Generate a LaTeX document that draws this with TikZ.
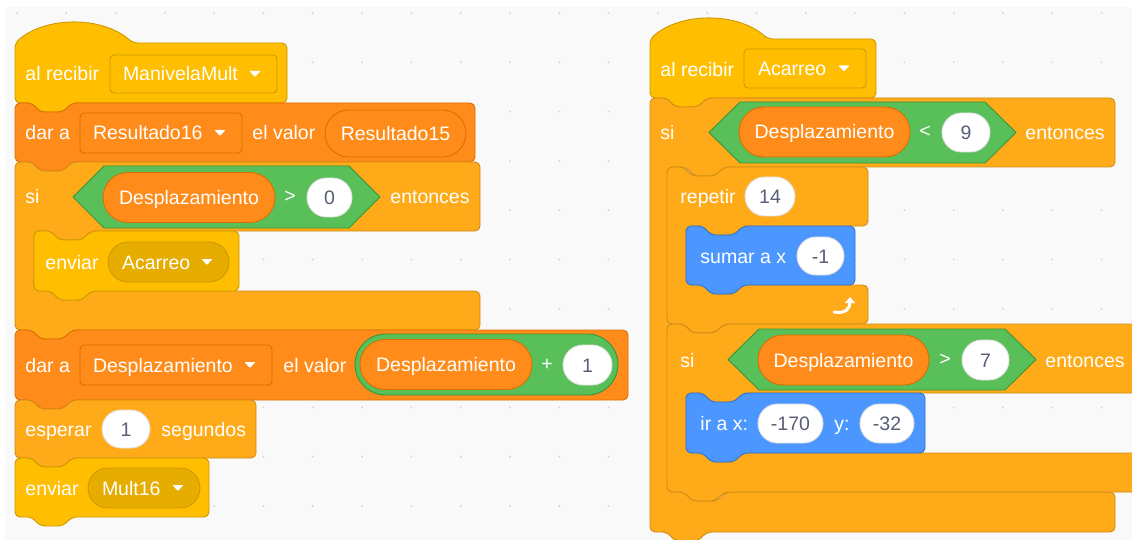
\documentclass[tikz,border=0pt]{standalone}
\usepackage{fontspec}
\setmainfont{Liberation Sans}
\usetikzlibrary{shapes.misc,arrows.meta}

\definecolor{evfill}{HTML}{FFBF00}
\definecolor{evline}{HTML}{CC9900}
\definecolor{evdark}{HTML}{E6AC00}
\definecolor{ctfill}{HTML}{FFAB19}
\definecolor{ctline}{HTML}{CF8B17}
\definecolor{vafill}{HTML}{FF8C1A}
\definecolor{valine}{HTML}{DB6E00}
\definecolor{opfill}{HTML}{59C059}
\definecolor{opline}{HTML}{389438}
\definecolor{mofill}{HTML}{4C97FF}
\definecolor{moline}{HTML}{3373CC}
\definecolor{numtext}{HTML}{575E75}
\definecolor{canvas}{HTML}{F9F9F9}
\definecolor{dotgray}{HTML}{D6D6D6}

\newcommand{\blkfnt}{\fontsize{19.5}{22}\selectfont}

% stack block: style, x1, y1, x2, y2
\newcommand{\stackblk}[5]{%
  \draw[#1] (#2,#3) -- (#2+17,#3) -- (#2+25,#3+9) -- (#2+48,#3+9) -- (#2+57,#3)
    -- (#4,#3) -- (#4,#5) -- (#2+57,#5) -- (#2+48,#5+9) -- (#2+25,#5+9)
    -- (#2+17,#5) -- (#2,#5) -- cycle;}

% hat block: style, x1, y1, x2, y2
\newcommand{\hatblk}[5]{%
  \draw[#1] (#2,#3) .. controls (#2+31,#3-27) and (#2+87,#3-27) .. (#2+118,#3)
    -- (#4,#3) -- (#4,#5) -- (#2+57,#5) -- (#2+48,#5+9) -- (#2+25,#5+9)
    -- (#2+17,#5) -- (#2,#5) -- cycle;}

% c block: style, x1, y1, x2, arm bottom, arm top, y2
\newcommand{\cblk}[7]{%
  \draw[#1] (#2,#3) -- (#2+17,#3) -- (#2+25,#3+9) -- (#2+48,#3+9) -- (#2+57,#3)
    -- (#4,#3) -- (#4,#5) -- (#2+76,#5) -- (#2+67,#5+9) -- (#2+44,#5+9) -- (#2+36,#5)
    -- (#2+19,#5) -- (#2+19,#6) -- (#2+36,#6) -- (#2+44,#6+9) -- (#2+67,#6+9) -- (#2+76,#6)
    -- (#4,#6) -- (#4,#7) -- (#2+57,#7) -- (#2+48,#7+9) -- (#2+25,#7+9)
    -- (#2+17,#7) -- (#2,#7) -- cycle;}

% boolean slot: x1, y1, x2, y2
\newcommand{\boolhex}[4]{%
  \draw[opblk] (#1,{(#2+#4)/2}) -- (#1+31,#2) -- (#3-31,#2) -- (#3,{(#2+#4)/2})
    -- (#3-31,#4) -- (#1+31,#4) -- cycle;}

% dropdown arrow near the east side of a field
\newcommand{\ddarrow}[1]{%
  \fill[white, rounded corners=0.8pt, shift={(#1)}] (-28,-3) -- (-17,-3) -- (-22.5,3) -- cycle;}

\begin{document}
\begin{tikzpicture}
  [x=1pt, y=-1pt, line width=0.9pt, line join=round,
   txt/.style={anchor=west, inner sep=0pt, text=white, font=\blkfnt, text height=14pt, text depth=0pt},
   sym/.style={inner sep=0pt, text=white, font=\blkfnt},
   fld/.style={rectangle, rounded corners=4pt, inner sep=0pt},
   pill/.style={rounded rectangle, inner sep=0pt, text=white, font=\blkfnt, text height=14pt, text depth=0pt},
   numin/.style={pill, fill=white, draw=black!12, text=numtext},
   evblk/.style={fill=evfill, draw=evline, rounded corners=5pt},
   ctblk/.style={fill=ctfill, draw=ctline, rounded corners=5pt},
   vablk/.style={fill=vafill, draw=valine, rounded corners=5pt},
   moblk/.style={fill=mofill, draw=moline, rounded corners=5pt},
   opblk/.style={fill=opfill, draw=opline}]

  \useasboundingbox (0,0) rectangle (1132,540);
  \clip (0,0) rectangle (1132,540);
  \fill[white] (0,0) rectangle (1132,540);
  \fill[canvas] (5,7) rectangle (1132,540);
  \foreach \i in {0,...,22}
    \foreach \j in {0,...,10}
      \fill[dotgray] ({17+49.3*\i},{13+49.3*\j}) circle (1.1pt);

  % left script
  \hatblk{evblk}{15}{43}{287}{103}
  \stackblk{vablk}{15}{103}{475}{162}
  \cblk{ctblk}{15}{162}{480}{231}{291}{330}
  \stackblk{evblk}{34}{231}{239}{291}
  \stackblk{vablk}{15}{330}{628}{400}
  \stackblk{ctblk}{15}{400}{256}{458}
  \stackblk{evblk}{15}{458}{209}{517}

  % right script
  \hatblk{evblk}{650}{39}{876}{98}
  \cblk{ctblk}{650}{98}{1115}{167}{492}{532}
  \cblk{ctblk}{667}{167}{868}{226}{285}{324}
  \stackblk{moblk}{686}{226}{855}{285}
  \cblk{ctblk}{667}{324}{1150}{393}{453}{492}
  \stackblk{moblk}{686}{393}{925}{453}

  % left script texts
  \node[txt] (lhat) at (25,74) {al recibir};
  \node[fld, fill=evfill, draw=evline, minimum width=167pt, minimum height=38pt] (lmsg) at (193.5,74) {};
  \node[txt] (lmsgt) at ([xshift=13pt]lmsg.west) {ManivelaMult};
  \ddarrow{lmsg.east}

  \node[txt] (lset1) at (25,133) {dar a};
  \node[fld, fill=vafill, draw=valine, minimum width=162pt, minimum height=40pt] (lvar1) at (161,133) {};
  \node[txt] (lvar1t) at ([xshift=13pt]lvar1.west) {Resultado16};
  \ddarrow{lvar1.east}
  \node[txt] (lval1) at (252,133) {el valor};
  \node[pill, fill=vafill, draw=valine, minimum width=141pt, minimum height=47pt] (lres15) at (395.5,133.5) {Resultado15};

  \node[txt] (lif) at (25,197) {si};
  \boolhex{73}{166}{380}{228}
  \node[pill, fill=vafill, draw=valine, minimum width=172pt, minimum height=50pt] (ldesp1) at (189,197.5) {Desplazamiento};
  \node[sym] (lgt) at (290,197) {>};
  \node[numin, minimum width=45pt, minimum height=39pt] (lzero) at (329.5,197.5) {0};
  \node[txt] (lthen) at (390,197) {entonces};

  \node[txt] (lsend1) at (45,262) {enviar};
  \node[pill, fill=evdark, draw=evline, minimum width=121pt, minimum height=40pt] (lacar) at (168.5,262) {};
  \node[txt] (lacart) at ([xshift=14pt]lacar.west) {Acarreo};
  \ddarrow{lacar.east}

  \node[txt] (lset2) at (25,365) {dar a};
  \node[fld, fill=vafill, draw=valine, minimum width=192pt, minimum height=40pt] (lvar2) at (176,365) {};
  \node[txt] (lvar2t) at ([xshift=13pt]lvar2.west) {Desplazamiento};
  \ddarrow{lvar2.east}
  \node[txt] (lval2) at (283,365) {el valor};
  \node[pill, fill=opfill, draw=opline, minimum width=263pt, minimum height=61pt] (lsum) at (486.5,364.5) {};
  \node[pill, fill=vafill, draw=valine, minimum width=172pt, minimum height=50pt] (ldesp2) at (446,364.5) {Desplazamiento};
  \node[sym] (lplus) at (547,365) {+};
  \node[numin, minimum width=49pt, minimum height=40pt] (lone1) at (587.5,365) {1};

  \node[txt] (lwait) at (25,429) {esperar};
  \node[numin, minimum width=48pt, minimum height=38pt] (lone2) at (126,429) {1};
  \node[txt] (lsec) at (161,429) {segundos};

  \node[txt] (lsend2) at (25,488) {enviar};
  \node[pill, fill=evdark, draw=evline, minimum width=112pt, minimum height=40pt] (lmult) at (144,488) {};
  \node[txt] (lmultt) at ([xshift=14pt]lmult.west) {Mult16};
  \ddarrow{lmult.east}

  % right script texts
  \node[txt] (rhat) at (660,70) {al recibir};
  \node[fld, fill=evfill, draw=evline, minimum width=122pt, minimum height=39pt] (rmsg) at (805,68.5) {};
  \node[txt] (rmsgt) at ([xshift=14pt]rmsg.west) {Acarreo};
  \ddarrow{rmsg.east}

  \node[txt] (rif1) at (660,133) {si};
  \boolhex{709}{102}{1016}{163}
  \node[pill, fill=vafill, draw=valine, minimum width=171pt, minimum height=50pt] (rdesp1) at (824.5,132) {Desplazamiento};
  \node[sym] (rlt) at (925,132) {<};
  \node[numin, minimum width=48pt, minimum height=39pt] (rnine) at (966,132.5) {9};
  \node[txt] (rthen1) at (1025,133) {entonces};

  \node[txt] (rrep) at (680,197) {repetir};
  \node[numin, minimum width=50pt, minimum height=39pt] (rtimes) at (770,196.5) {14};

  \node[txt] (rmove) at (700,256) {sumar a x};
  \node[numin, minimum width=47pt, minimum height=38pt] (rstep) at (820.5,256) {-1};

  \draw[white, line width=3pt, line cap=round, -{Triangle[length=6pt,width=10pt]}]
    (834,312) .. controls (845,314) and (850,309) .. (850,297);

  \node[txt] (rif2) at (680,360) {si};
  \boolhex{728}{329}{1036}{390}
  \node[pill, fill=vafill, draw=valine, minimum width=171pt, minimum height=50pt] (rdesp2) at (843.5,360) {Desplazamiento};
  \node[sym] (rgt) at (945,360) {>};
  \node[numin, minimum width=47pt, minimum height=40pt] (rseven) at (985.5,360) {7};
  \node[txt] (rthen2) at (1045,360) {entonces};

  \node[txt] (rgoto) at (700,423) {ir a x:};
  \node[numin, minimum width=65pt, minimum height=39pt] (rxval) at (790.5,423.5) {-170};
  \node[txt] (rylbl) at (834,423) {y:};
  \node[numin, minimum width=54pt, minimum height=39pt] (ryval) at (887,423.5) {-32};

\end{tikzpicture}
\end{document}
